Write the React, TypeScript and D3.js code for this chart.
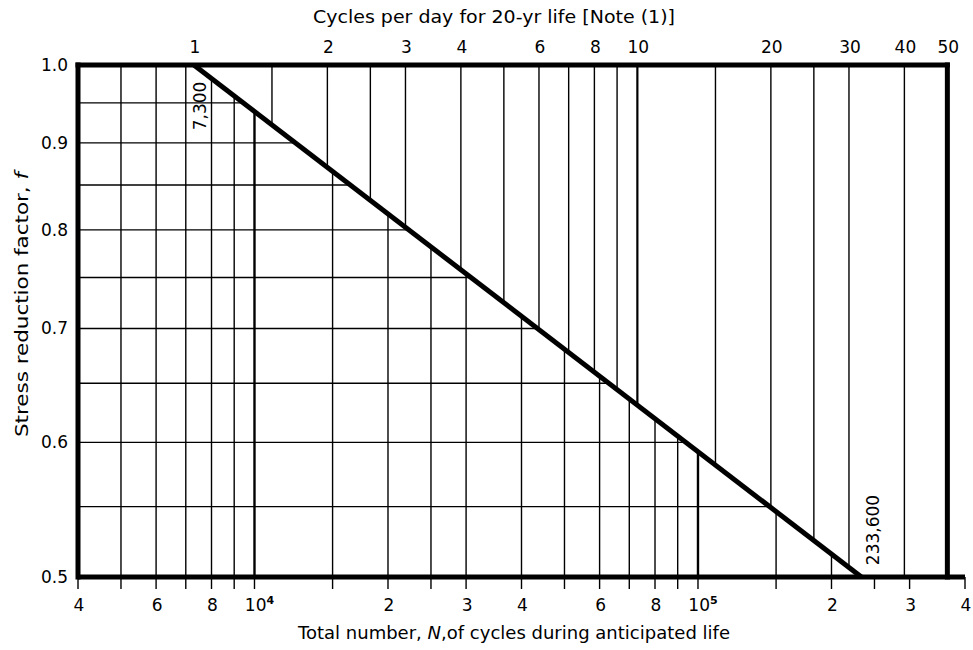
import React, { Component } from "react";
import * as d3 from "d3";

// total cycles N for the bottom axis, ticks and gridlines
const bottomTicks = [
  4000, 5000, 6000, 7000, 8000, 9000, 10000, 15000, 20000, 25000, 30000, 40000,
  50000, 60000, 70000, 80000, 90000, 100000, 150000, 200000, 250000, 300000, 400000
];
const bottomLabelValues = [4000, 6000, 8000, 10000, 20000, 30000, 40000, 60000, 80000, 100000, 200000, 300000, 400000];
const bottomLabelText = ["4", "6", "8", "10^4", "2", "3", "4", "6", "8", "10^5", "2", "3", "4"];

// cycles per day for a 20 year life (top axis)
const cyclesPerDayToN = 365 * 20;
const topTicks = [1, 1.5, 2, 2.5, 3, 4, 5, 6, 7, 8, 9, 10, 15, 20, 25, 30, 40, 50];
const topLabels = [1, 2, 3, 4, 6, 8, 10, 20, 30, 40, 50];

// stress reduction factor
const yLabels = [0.5, 0.6, 0.7, 0.8, 0.9, 1.0];
const yGrid = [0.55, 0.6, 0.65, 0.7, 0.75, 0.8, 0.85, 0.9, 0.95];

// the f curve, straight on log-log paper
const curveN = [7300, 233600];
const curveF = [1.0, 0.5];
const curveNotes = ["7,300", "233,600"];

class App extends Component {
  constructor(props) {
    super(props);
    this.svgRef = React.createRef();
  }

  componentDidMount() {
    this.renderChart();
  }

  renderChart() {
    const width = 973;
    const height = 650;
    const font = "'DejaVu Sans', 'Liberation Sans', Arial, sans-serif";

    const svg = d3.select(this.svgRef.current);
    svg.selectAll("*").remove();
    svg.attr("width", width).attr("height", height);

    const x = d3.scaleLog().domain([4000, 400000]).range([78, 965]);
    const y = d3.scaleLog().domain([0.5, 1.0]).range([577, 65]);

    const xLeft = x(4000);
    const xRight = x(50 * cyclesPerDayToN);
    const yTop = y(1.0);
    const yBot = y(0.5);

    const p0 = [x(curveN[0]), y(curveF[0])];
    const p1 = [x(curveN[1]), y(curveF[1])];

    const defs = svg.append("defs");
    defs
      .append("clipPath")
      .attr("id", "below")
      .append("polygon")
      .attr("points", [[xLeft, yTop], p0, p1, [xLeft, yBot]].map((p) => p.join(",")).join(" "));
    defs
      .append("clipPath")
      .attr("id", "above")
      .append("polygon")
      .attr("points", [p0, [xRight, yTop], [xRight, yBot], p1].map((p) => p.join(",")).join(" "));

    // grid under the curve: N lines and f lines
    const below = svg.append("g").attr("clip-path", "url(#below)");
    below
      .selectAll(".vgrid")
      .data(bottomTicks.filter((d) => d > 4000 && d < 400000))
      .enter()
      .append("line")
      .attr("x1", (d) => x(d))
      .attr("x2", (d) => x(d))
      .attr("y1", yTop)
      .attr("y2", yBot)
      .attr("stroke", "#000")
      .attr("stroke-width", (d) => (d === 10000 || d === 100000 ? 2.4 : 1.4));
    below
      .selectAll(".hgrid")
      .data(yGrid)
      .enter()
      .append("line")
      .attr("x1", xLeft)
      .attr("x2", xRight)
      .attr("y1", (d) => y(d))
      .attr("y2", (d) => y(d))
      .attr("stroke", "#000")
      .attr("stroke-width", 1.4);

    // grid over the curve: cycles per day lines
    const above = svg.append("g").attr("clip-path", "url(#above)");
    above
      .selectAll(".tgrid")
      .data(topTicks.filter((d) => d < 50))
      .enter()
      .append("line")
      .attr("x1", (d) => x(d * cyclesPerDayToN))
      .attr("x2", (d) => x(d * cyclesPerDayToN))
      .attr("y1", yTop)
      .attr("y2", yBot)
      .attr("stroke", "#000")
      .attr("stroke-width", (d) => (d === 10 ? 2.2 : 1.4));

    // bottom tick marks
    svg
      .selectAll(".btick")
      .data(bottomTicks)
      .enter()
      .append("line")
      .attr("x1", (d) => x(d))
      .attr("x2", (d) => x(d))
      .attr("y1", yBot)
      .attr("y2", yBot + 12)
      .attr("stroke", "#000")
      .attr("stroke-width", 1.4);

    // frame
    const frame = svg.append("g").attr("stroke", "#000").attr("stroke-width", 5).attr("stroke-linecap", "square");
    frame.append("line").attr("x1", xLeft).attr("x2", xRight).attr("y1", yTop).attr("y2", yTop);
    frame.append("line").attr("x1", xLeft).attr("x2", xLeft).attr("y1", yTop).attr("y2", yBot);
    frame.append("line").attr("x1", xRight).attr("x2", xRight).attr("y1", yTop).attr("y2", yBot);
    frame.append("line").attr("x1", xLeft).attr("x2", x(400000)).attr("y1", yBot).attr("y2", yBot)
      .attr("stroke-linecap", "butt");

    // the curve
    const line = d3
      .line()
      .x((d) => x(d[0]))
      .y((d) => y(d[1]));
    svg
      .append("path")
      .datum(curveN.map((n, i) => [n, curveF[i]]))
      .attr("d", line)
      .attr("fill", "none")
      .attr("stroke", "#000")
      .attr("stroke-width", 5);

    const text = svg.append("g").style("font-family", font).attr("fill", "#000");

    // curve notes
    text
      .append("text")
      .attr("transform", `translate(${x(curveN[0]) + 6},${y(curveF[0]) + 41}) rotate(-90)`)
      .attr("text-anchor", "middle")
      .attr("dy", "0.35em")
      .style("font-size", "17px")
      .text(curveNotes[0]);
    text
      .append("text")
      .attr("transform", `translate(${x(curveN[1]) + 12},${y(curveF[1]) - 47}) rotate(-90)`)
      .attr("text-anchor", "middle")
      .attr("dy", "0.35em")
      .style("font-size", "17px")
      .text(curveNotes[1]);

    // y labels
    text
      .selectAll(".ylab")
      .data(yLabels)
      .enter()
      .append("text")
      .attr("x", 68)
      .attr("y", (d) => y(d))
      .attr("dy", "0.35em")
      .attr("text-anchor", "end")
      .style("font-size", "17px")
      .text((d) => d3.format(".1f")(d));

    // top labels
    text
      .selectAll(".tlab")
      .data(topLabels)
      .enter()
      .append("text")
      .attr("x", (d) => x(d * cyclesPerDayToN) + 1)
      .attr("y", 47)
      .attr("dy", "0.35em")
      .attr("text-anchor", "middle")
      .style("font-size", "17px")
      .text((d) => d);

    // bottom labels
    const bl = text
      .selectAll(".blab")
      .data(bottomLabelValues)
      .enter()
      .append("text")
      .attr("x", (d, i) => x(d) + 1 + (bottomLabelText[i].includes("^") ? 4 : 0))
      .attr("y", 605)
      .attr("dy", "0.35em")
      .attr("text-anchor", "middle")
      .style("font-size", "17px");
    bl.each(function (d, i) {
      const parts = bottomLabelText[i].split("^");
      const t = d3.select(this);
      t.append("tspan").text(parts[0]);
      if (parts[1]) {
        t.append("tspan").attr("dy", -7).style("font-size", "11px").style("font-weight", "bold").text(parts[1]);
      }
    });

    // axis titles
    text
      .append("text")
      .attr("x", 313)
      .attr("y", 17)
      .attr("dy", "0.35em")
      .attr("textLength", 362)
      .attr("lengthAdjust", "spacingAndGlyphs")
      .style("font-size", "17px")
      .text("Cycles per day for 20-yr life [Note (1)]");

    const xt = text
      .append("text")
      .attr("x", 298)
      .attr("y", 633)
      .attr("dy", "0.35em")
      .attr("textLength", 432)
      .attr("lengthAdjust", "spacingAndGlyphs")
      .style("font-size", "17px");
    xt.append("tspan").text("Total number, ");
    xt.append("tspan").style("font-style", "italic").text("N");
    xt.append("tspan").text(",of cycles during anticipated life");

    const yt = text
      .append("text")
      .attr("transform", "translate(22,437) rotate(-90)")
      .attr("dy", "0.35em")
      .attr("textLength", 265)
      .attr("lengthAdjust", "spacingAndGlyphs")
      .style("font-size", "17px");
    yt.append("tspan").text("Stress reduction factor, ");
    yt.append("tspan").style("font-style", "italic").text("f");
  }

  render() {
    return (
      <svg
        ref={this.svgRef}
        style={{ position: "absolute", left: 0, top: 0, background: "#fff" }}
      ></svg>
    );
  }
}

export default App;
